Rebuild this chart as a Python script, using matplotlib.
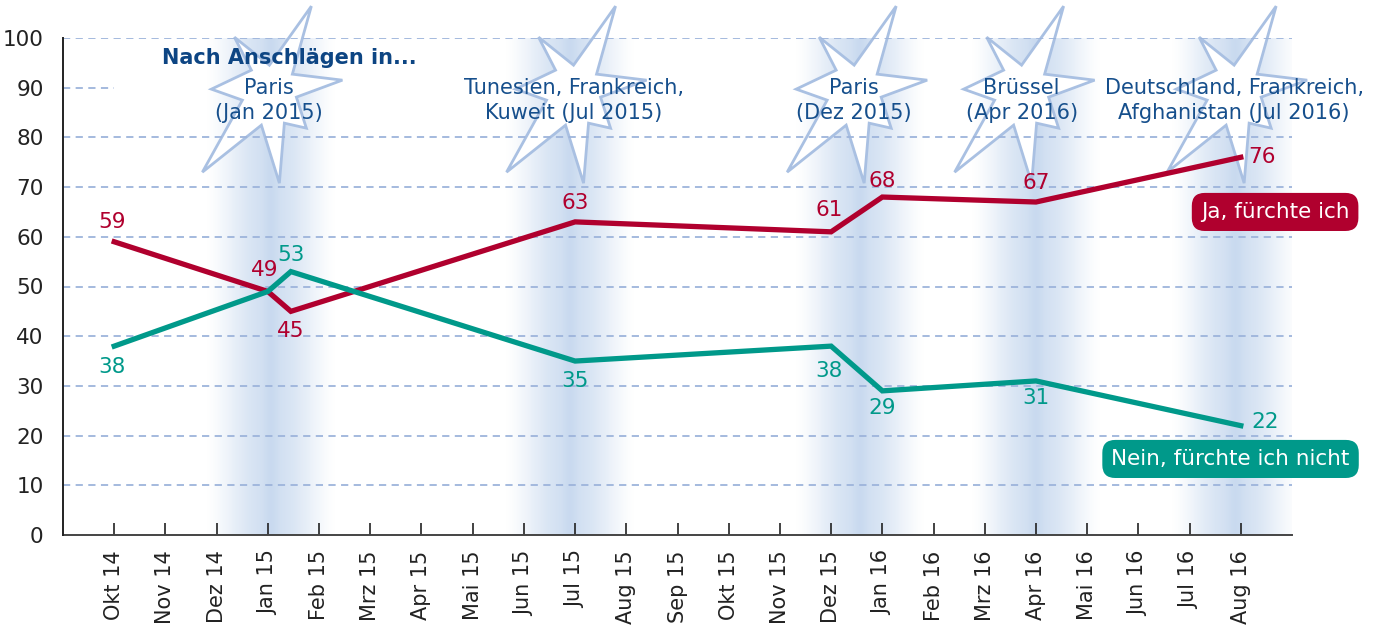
import numpy as np
import matplotlib.pyplot as plt
import matplotlib.transforms as mtransforms
from matplotlib.patches import Polygon

months = ['Okt 14', 'Nov 14', 'Dez 14', 'Jan 15', 'Feb 15', 'Mrz 15', 'Apr 15', 'Mai 15',
          'Jun 15', 'Jul 15', 'Aug 15', 'Sep 15', 'Okt 15', 'Nov 15', 'Dez 15', 'Jan 16',
          'Feb 16', 'Mrz 16', 'Apr 16', 'Mai 16', 'Jun 16', 'Jul 16', 'Aug 16']

# survey dates (month index from Okt 14)
survey_x = [0, 3, 3.45, 9, 14, 15, 18, 22]
ja = [59, 49, 45, 63, 61, 68, 67, 76]
nein = [38, 49, 53, 35, 38, 29, 31, 22]

# events
event_names = ['Paris\n(Jan 2015)', 'Tunesien, Frankreich,\nKuweit (Jul 2015)', 'Paris\n(Dez 2015)',
               'Brüssel\n(Apr 2016)', 'Deutschland, Frankreich,\nAfghanistan (Jul 2016)']
event_x = [3.03, 8.97, 14.45, 17.72, 21.87]
band_x = [3.05, 8.9, 14.55, 18.0, 21.9]

RED = '#b0002e'
TEAL = '#00998a'
BLUE_TXT = '#164f8c'
GRID = '#9db4db'

plt.rcParams['font.family'] = 'DejaVu Sans'
fig = plt.figure(figsize=(13.83, 6.33), dpi=100)
ax = fig.add_axes([63 / 1383, 1 - 535 / 633, (1292 - 63) / 1383, (535 - 38) / 633])
ax.set_xlim(-1, 23)
ax.set_ylim(0, 100)

# shaded bands around the attacks
t = np.linspace(-1, 1, 300)
prof = 0.5 * (1 + np.cos(np.pi * t))
prof = np.clip(0.85 * prof ** 0.8 + 0.15 * np.exp(-(t / 0.1) ** 2), 0, 1)
img = np.zeros((1, len(t), 4))
img[..., 0] = 0.52
img[..., 1] = 0.67
img[..., 2] = 0.86
img[..., 3] = 0.44 * prof
for bx in band_x:
    ax.imshow(img, extent=[bx - 1.3, bx + 1.3, 0, 100], aspect='auto', zorder=0.5,
              interpolation='bilinear')

# stars (pixel offsets, y up)
outer = [(42, 89), (73, 15), (37, -33), (10, -88), (-67, -77), (-58, 6), (-35, 58)]
inner = [(23, 21), (27, -2), (15, -28), (-8, -30), (-27, -5), (-18, 25), (0, 30)]
star = []
for o, i in zip(outer, inner):
    star.append(o)
    star.append(i)
star = np.array(star, dtype=float)
star_y = 88.5
for ex in event_x:
    tr = mtransforms.Affine2D() + mtransforms.ScaledTranslation(ex, star_y, ax.transData)
    ax.add_patch(Polygon(star, closed=True, facecolor='white', edgecolor='#a9c0e2',
                         lw=2, transform=tr, clip_on=False, zorder=1))

# grid lines
for g in range(10, 101, 10):
    x1 = 0 if g == 90 else 23
    ax.hlines(g, -1, x1, colors=GRID, linestyles=(0, (4, 3)), lw=1.3, zorder=1.5)

ax.plot(survey_x, ja, color=RED, lw=3.8, zorder=3, solid_joinstyle='miter')
ax.plot(survey_x, nein, color=TEAL, lw=3.8, zorder=3, solid_joinstyle='miter')

# value labels (offsets in pixels)
ja_off = [(-2, 20), (-3, 21), (0, -20), (0, 19), (-2, 22), (0, 16), (0, 19), (21, 0)]
for x, v, off in zip(survey_x, ja, ja_off):
    ax.annotate(str(v), (x, v), xytext=off, textcoords='offset pixels', ha='center',
                va='center', color=RED, fontsize=15.5, zorder=4)
nein_off = [(-2, -21), None, (0, 17), (0, -20), (-2, -25), (0, -17), (0, -17), (24, 4)]
for x, v, off in zip(survey_x, nein, nein_off):
    if off is None:
        continue
    ax.annotate(str(v), (x, v), xytext=off, textcoords='offset pixels', ha='center',
                va='center', color=TEAL, fontsize=15.5, zorder=4)

# event texts
ax.text(0.93, 95.9, 'Nach Anschlägen in...', fontsize=15, fontweight='bold', color='#0d4583',
        ha='left', va='center', zorder=5)
for ex, name in zip(event_x, event_names):
    ax.text(ex, 87.5, name, fontsize=15, color=BLUE_TXT, ha='center', va='center',
            linespacing=1.3, zorder=5)

# series labels
ax.text(22.67, 65, 'Ja, fürchte ich', fontsize=15.5, color='white', ha='center', va='center',
        zorder=6, bbox=dict(boxstyle='round,pad=0.42,rounding_size=0.6', fc=RED, ec='none'))
ax.text(21.8, 15.3, 'Nein, fürchte ich nicht', fontsize=15.5, color='white', ha='center',
        va='center', zorder=6,
        bbox=dict(boxstyle='round,pad=0.42,rounding_size=0.6', fc=TEAL, ec='none'))

ax.set_xticks(range(len(months)))
ax.set_xticklabels(months, rotation=90, fontsize=15, color='#222222')
ax.set_yticks(range(0, 101, 10))
ax.tick_params(axis='y', length=0, pad=14, labelsize=15.5, labelcolor='#222222')
ax.tick_params(axis='x', direction='in', length=9, width=1.2, color='#222222', pad=11)
for s in ['top', 'right']:
    ax.spines[s].set_visible(False)
ax.spines['left'].set_color('#222222')
ax.spines['bottom'].set_color('#444444')
ax.spines['left'].set_linewidth(1.4)
ax.spines['bottom'].set_linewidth(1.4)
ax.spines['left'].set_zorder(4)

fig.savefig('out.png', dpi=100, facecolor='white')
